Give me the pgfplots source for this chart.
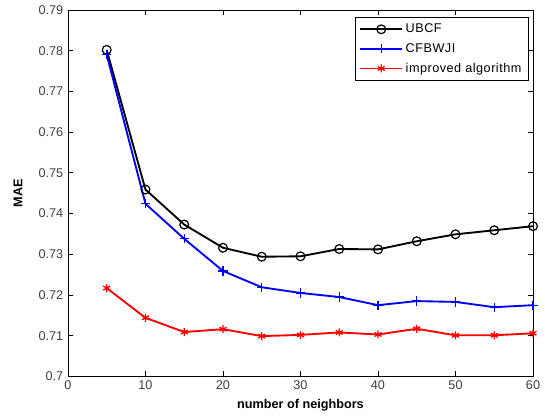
\documentclass[border=0pt]{standalone}
\usepackage{fontspec}
\setmainfont{Liberation Sans}
\usepackage{pgfplots}
\pgfplotsset{compat=1.18}

\begin{document}
\begin{tikzpicture}
\begin{axis}[
  width=349pt, height=275pt,
  scale only axis,
  xmin=0, xmax=60, ymin=0.7, ymax=0.79,
  xtick={0,10,...,60},
  ytick={0.70,0.71,...,0.79},
  yticklabel style={/pgf/number format/fixed, /pgf/number format/precision=2},
  /pgf/number format/assume math mode=true,
  tick align=inside,
  major tick length=4pt,
  tick style={black, line width=0.6pt},
  axis line style={line width=0.6pt},
  ticklabel style={font=\fontsize{9.5}{10}\selectfont, color=black!75},
  xlabel={\textbf{number of neighbors}},
  ylabel={\textbf{MAE}},
  label style={font=\fontsize{9.5}{10}\selectfont},
  xlabel style={at={(axis description cs:0.5,-0.079)}, anchor=center},
  ylabel style={at={(axis description cs:-0.1075,0.5)}, anchor=center},
  legend style={at={(rel axis cs:0.99,0.981)}, anchor=north east,
    font=\fontsize{9.5}{10}\selectfont\addfontfeatures{LetterSpace=4}, draw=black,
    row sep=2.5pt, inner sep=3pt},
  legend cell align=left,
  legend image code/.code={
    \draw[mark repeat=2,mark phase=2] plot coordinates {(0cm,0cm) (0.55cm,0cm) (1.1cm,0cm)};},
]
\addplot[black, line width=1.4pt, mark=o, mark size=3.3pt, mark options={line width=0.9pt}]
  coordinates {
  (5,0.7802) (10,0.7459) (15,0.7373) (20,0.7316) (25,0.7294) (30,0.7295)
  (35,0.7313) (40,0.7312) (45,0.7332) (50,0.7349) (55,0.7359) (60,0.7369)
  };
\addlegendentry{UBCF}
\addplot[blue, line width=1.4pt, mark=+, mark size=3.5pt, mark options={line width=1pt}]
  coordinates {
  (5,0.7790) (10,0.7424) (15,0.7338) (20,0.7259) (25,0.7219) (30,0.7205)
  (35,0.7195) (40,0.7175) (45,0.7185) (50,0.7183) (55,0.7170) (60,0.7175)
  };
\addlegendentry{CFBWJI}
\addplot[red, line width=1.4pt, mark=asterisk, mark size=3pt, mark options={line width=1pt}]
  coordinates {
  (5,0.7217) (10,0.7144) (15,0.7109) (20,0.7116) (25,0.7099) (30,0.7102)
  (35,0.7108) (40,0.7103) (45,0.7117) (50,0.7101) (55,0.7101) (60,0.7106)
  };
\addlegendentry{improved algorithm}
\end{axis}
\pgfresetboundingbox
\path ([shift={(-51pt,-30pt)}]current axis.south west) rectangle ([shift={(9pt,7.5pt)}]current axis.north east);
\end{tikzpicture}
\end{document}
